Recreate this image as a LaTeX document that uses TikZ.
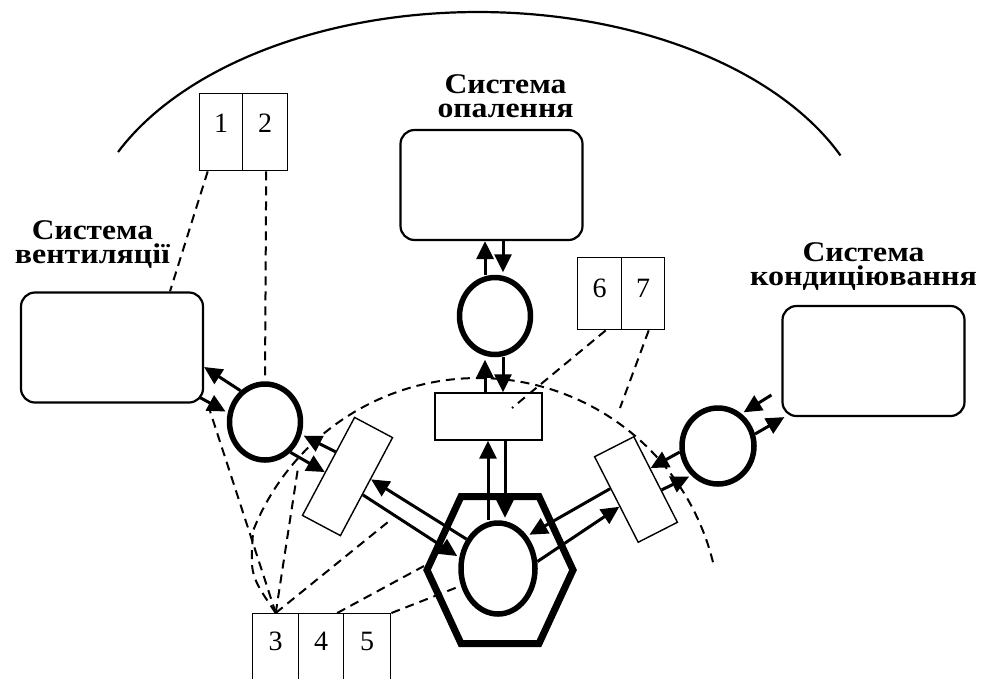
\documentclass[tikz,border=0pt]{standalone}
\usepackage{graphicx}
\usepackage{fontspec}
\setmainfont{Liberation Serif}
\usetikzlibrary{arrows.meta,shapes.geometric,calc}
% two-line heading: #1 first line at width #2, #3 second line at width #4;
% baseline of the whole box is the first line's baseline
\newcommand{\syshead}[4]{\vtop{\baselineskip=24pt\lineskiplimit=-100pt\lineskip=0pt
  \hbox to #4{\hss\resizebox{#2}{\height}{#1}\hss}%
  \hbox to #4{\hss\resizebox{#4}{\height}{#3}\hss}}}
\begin{document}
\begin{tikzpicture}[x=1pt,y=-1pt,
  sysbox/.style={draw, line width=2.2pt, rounded corners=14pt, minimum width=182pt, minimum height=110pt, inner sep=0pt},
  ring/.style={draw, ellipse, line width=5.5pt, inner sep=0pt},
  unit/.style={draw, line width=1.4pt, inner sep=0pt},
  cell/.style={draw, line width=1.4pt, inner sep=0pt, anchor=north west},
  num/.style={anchor=base, font=\fontsize{28}{28}\selectfont, inner sep=0pt},
  syslabel/.style={anchor=base, font=\fontsize{28.5}{24}\selectfont\bfseries, inner sep=0pt},
  flow/.style={line width=3pt, -{Triangle[length=18pt,width=17pt]}},
  flowc/.style={flow, shorten >=2.5pt},
  link/.style={line width=2pt, dash pattern=on 9pt off 6pt},
  hull/.style={line width=2.2pt}
]
\useasboundingbox (0,0) rectangle (987,678);

% outer boundary arc
\draw[hull] plot[domain=23.4:155.7, samples=100] ({478+395*cos(\x)},{250-238*sin(\x)});

% system blocks
\node[sysbox] (vb) at (112,347.5) {};
\node[sysbox] (hb) at (491.5,185) {};
\node[sysbox] (cb) at (873.5,361) {};

\node[syslabel] (vl) at (92.5,239) {\syshead{Система}{121pt}{вентиляції}{155pt}};
\node[syslabel] (hl) at (505.5,93) {\syshead{Система}{122pt}{опалення}{136pt}};
\node[syslabel] (kl) at (863.5,261) {\syshead{Система}{122pt}{кондиціювання}{227pt}};

% pumps / exchangers
\node[ring, minimum width=71pt, minimum height=76pt] (lc) at (265,422) {};
\node[ring, minimum width=71pt, minimum height=77pt] (hc) at (495,316) {};
\node[ring, minimum width=72pt, minimum height=76pt] (rc) at (718,446) {};
\node[ring, minimum width=74pt, minimum height=91pt] (mc) at (498,568.5) {};

% distribution units
\node[unit, minimum width=107pt, minimum height=47pt] (mr) at (488.5,416.5) {};
\node[unit, minimum width=43pt, minimum height=111pt, rotate=-28] (lr) at (347.5,476.5) {};
\node[unit, minimum width=44pt, minimum height=96pt, rotate=27] (rr) at (636,489.5) {};

% source hexagon
\coordinate (hx) at (500,570);
\draw[line width=7pt, line join=miter] ($(hx)+(-73,0)$) -- ++(34,-73.5) -- ++(78,0) -- ++(34,73.5) -- ++(-34,73.5) -- ++(-78,0) -- cycle;

% numbered blocks
\node[cell, minimum width=43pt, minimum height=77pt] (c1) at (199,93) {};
\node[cell, minimum width=45pt, minimum height=77pt] (c2) at (242,93) {};
\node[num] (n1) at ([yshift=-39pt]c1.north) {1};
\node[num] (n2) at ([yshift=-39pt]c2.north) {2};

\node[cell, minimum width=44pt, minimum height=72pt] (c6) at (577,257) {};
\node[cell, minimum width=43pt, minimum height=72pt] (c7) at (621,257) {};
\node[num] (n6) at ([yshift=-40pt]c6.north) {6};
\node[num] (n7) at ([yshift=-40pt]c7.north) {7};

\node[cell, minimum width=46pt, minimum height=80pt] (c3) at (252,613) {};
\node[cell, minimum width=45pt, minimum height=80pt] (c4) at (298,613) {};
\node[cell, minimum width=47pt, minimum height=80pt] (c5) at (343,613) {};
\node[num] (n3) at ([yshift=-37pt]c3.north) {3};
\node[num] (n4) at ([yshift=-37pt]c4.north) {4};
\node[num] (n5) at ([yshift=-37pt]c5.north) {5};

% free ends of the signal lines
\coordinate (p3a) at (210,411);
\coordinate (p3b) at (298,468);
\coordinate (p3c) at (388,522);
\coordinate (p4) at (424,566);
\coordinate (p6) at (512,408);
\coordinate (p7) at (620,408);

% signal lines
\draw[link] ([xshift=-13.5pt]c1.south) -- ([xshift=58pt]vb.north);
\draw[link] ([xshift=1pt]c2.south) -- (lc.north);
\draw[link] (c3.north) -- (p3a);
\draw[link] (c3.north) -- (p3b);
\draw[link] (c3.north) -- (p3c);
\draw[link] ([xshift=16pt]c4.north) -- (p4);
\draw[link] (c5.north east) -- (mc.205);
\draw[link] ([xshift=6pt]c6.south) -- (p6);
\draw[link] ([xshift=5.5pt]c7.south) -- (p7);
\draw[link] (c3.north) .. controls (250,575) .. (253.2,530.5)
  -- plot[domain=158.3:13.6, samples=90] ({478+242*cos(\x)},{620-242*sin(\x)});

% flows
\draw[flow]  (lc.128) -- ([yshift=-19.5pt]vb.east);
\draw[flowc] ([xshift=-4pt,yshift=6pt]vb.south east) -- (lc.166);
\draw[flowc] ($(lr.north west)!0.356!(lr.south west)$) -- (lc.-19);
\draw[flow]  (lc.-50) -- ($(lr.north west)!0.56!(lr.south west)$);
\draw[flow]  (mc.137) -- ($(lr.north east)!0.424!(lr.south east)$);
\draw[flowc] ($(lr.north east)!0.58!(lr.south east)$) -- (mc.164.5);
\draw[flow]  ([xshift=-10pt]mc.north) -- ([xshift=-0.5pt]mr.south);
\draw[flowc] ([xshift=16.5pt]mr.south) -- ([xshift=7pt]mc.north);
\draw[flowc] ([xshift=-3.5pt]mr.north) -- ([xshift=-10pt]hc.south);
\draw[flow]  ([xshift=8pt]hc.south) -- ([xshift=14.5pt]mr.north);
\draw[flow]  ([xshift=-10pt]hc.north) -- ([xshift=-6.5pt]hb.south);
\draw[flowc] ([xshift=11.5pt]hb.south) -- ([xshift=8pt]hc.north);
\draw[flowc] ($(rr.north west)!0.372!(rr.south west)$) -- (mc.48);
\draw[flow]  (mc.10.7) -- ($(rr.north west)!0.58!(rr.south west)$);
\draw[flow]  (rc.189.5) -- ($(rr.north east)!0.372!(rr.south east)$);
\draw[flowc] ($(rr.north east)!0.623!(rr.south east)$) -- (rc.228);
\draw[flowc] ([xshift=-10pt,yshift=-34pt]cb.west) -- (rc.54.8);
\draw[flow]  (rc.18.4) -- ([xshift=3pt]cb.south west);
\end{tikzpicture}
\end{document}
